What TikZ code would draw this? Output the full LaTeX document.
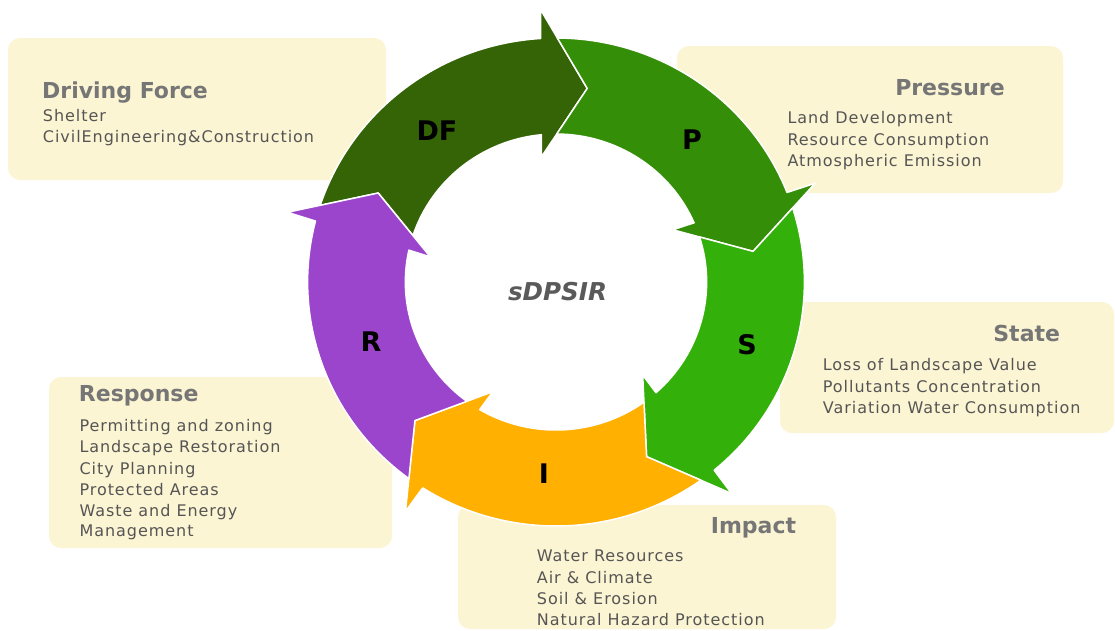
\documentclass[tikz,border=0pt]{standalone}
\usepackage{fontspec}
\setmainfont{DejaVu Sans}
\newfontfamily\bodyfont[LetterSpace=6]{DejaVu Sans}
\definecolor{cream}{RGB}{252,245,211}
\definecolor{titlegray}{RGB}{118,118,118}
\definecolor{bodygray}{RGB}{85,85,85}
\definecolor{centergray}{RGB}{90,90,90}
\definecolor{dfgreen}{RGB}{52,100,5}
\definecolor{pgreen}{RGB}{53,142,8}
\definecolor{sgreen}{RGB}{52,176,10}
\definecolor{iorange}{RGB}{255,176,0}
\definecolor{rpurple}{RGB}{155,69,204}
\tikzset{
  box/.style={fill=cream, draw=none, rounded corners=12pt},
  ttl/.style={anchor=base, inner sep=0pt, text=titlegray, font=\fontsize{22}{24}\selectfont\bfseries},
  bodyline/.style={anchor=base west, inner sep=0pt, text=bodygray, font=\bodyfont\fontsize{16}{20}\selectfont},
  seg/.style={draw=white, line width=1.5pt, line join=round},
  lbl/.style={inner sep=0pt, text=black, font=\fontsize{27}{30}\selectfont\bfseries},
}
\begin{document}
\begin{tikzpicture}[x=1pt, y=-1pt]
\useasboundingbox[fill=white] (0,0) rectangle (1115,630);

% boxes
\path[box] (8,38) rectangle (386,180);
\path[box] (677,46) rectangle (1063,193);
\path[box] (780,302) rectangle (1114,433);
\path[box] (49,377) rectangle (392,548);
\path[box] (458,505) rectangle (836,629);

% ring of arrows
\begin{scope}[shift={(556pt,-282pt)}, xscale=1.018]
  \foreach \a/\c in {81/dfgreen, 9/pgreen, -63/sgreen, -135/iorange, 153/rpurple}{
    \path[seg, fill=\c, rotate=\a]
      (80.68:244pt) arc[start angle=80.68, end angle=12.54, radius=244pt]
      -- (12.2:273pt) -- (0:196pt) -- (15.5:126pt) -- (14.58:148pt)
      arc[start angle=14.58, end angle=80.72, radius=148pt]
      -- (72:196pt) -- cycle;
  }
\end{scope}

% ring labels
\node[lbl] (ldf) at (437,131) {DF};
\node[lbl] (lp) at (692,140) {P};
\node[lbl] (ls) at (747,345) {S};
\node[lbl] (li) at (544,474) {I};
\node[lbl] (lr) at (371,342) {R};
\node[anchor=base, inner sep=0pt, text=centergray, font=\fontsize{24.6}{28}\selectfont\bfseries\itshape] (ctr) at (557.5,300) {sDPSIR};

% Driving force
\node[ttl] (tdf) at (125,98) {Driving Force};
\node[bodyline] (df1) at (42.7,121.7) {Shelter};
\node[bodyline] (df2) at (42.7,142.7) {CivilEngineering\&Construction};

% Pressure
\node[ttl] (tp) at (950,95) {Pressure};
\node[bodyline] (p1) at (787.3,123.3) {Land Development};
\node[bodyline] (p2) at (787.3,145.3) {Resource Consumption};
\node[bodyline] (p3) at (787.3,166.7) {Atmospheric Emission};

% State
\node[ttl] (ts) at (1026.7,341.7) {State};
\node[bodyline] (s1) at (822.7,370) {Loss of Landscape Value};
\node[bodyline] (s2) at (822.7,392.7) {Pollutants Concentration};
\node[bodyline] (s3) at (822.7,413.3) {Variation Water Consumption};

% Response
\node[ttl] (tr) at (138.7,401.7) {Response};
\node[bodyline] (r1) at (79.3,431) {Permitting and zoning};
\node[bodyline] (r2) at (79.3,452.7) {Landscape Restoration};
\node[bodyline] (r3) at (79.3,474.3) {City Planning};
\node[bodyline] (r4) at (79.3,495) {Protected Areas};
\node[bodyline] (r5) at (79.3,516) {Waste and Energy};
\node[bodyline] (r6) at (79.3,536) {Management};

% Impact
\node[ttl] (ti) at (753.5,533.3) {Impact};
\node[bodyline] (i1) at (536.7,561.7) {Water Resources};
\node[bodyline] (i2) at (536.7,583.3) {Air \& Climate};
\node[bodyline] (i3) at (536.7,604.3) {Soil \& Erosion};
\node[bodyline] (i4) at (536.7,625) {Natural Hazard Protection};
\end{tikzpicture}
\end{document}
